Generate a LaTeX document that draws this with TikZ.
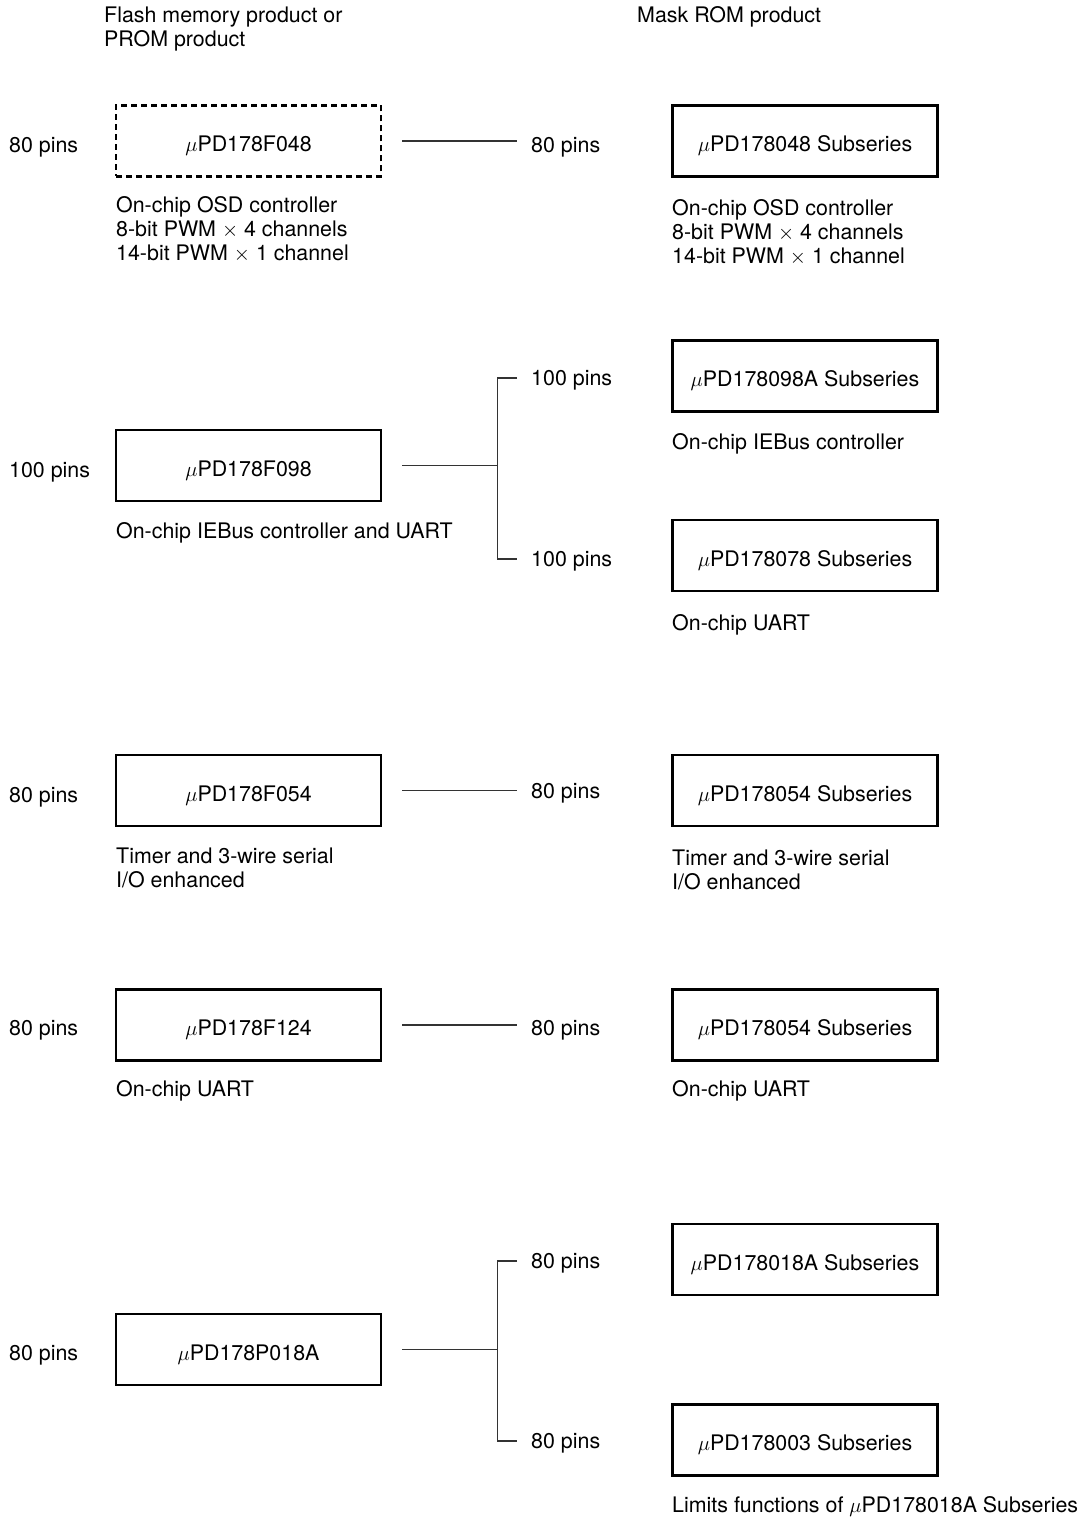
\documentclass[tikz,border=0pt]{standalone}
\usepackage{fontspec}
\setmainfont{TeX Gyre Heros}
\newcommand{\mup}{$\mu$}
\begin{document}
\begin{tikzpicture}[x=1pt,y=-1pt,
  every node/.style={font=\fontsize{21.4}{24}\selectfont},
  chip/.style={draw,line width=2.5pt,minimum width=265pt,minimum height=71pt,inner sep=0pt,text height=21.4pt,text depth=0pt,anchor=center},
  dchip/.style={chip,dash pattern=on 6pt off 4pt},
  pins/.style={anchor=west,inner sep=0pt,text height=15.4pt,text depth=0pt},
  desc/.style={anchor=north west,inner sep=0pt,align=left},
  conn/.style={line width=1.1pt,black!80}]
\useasboundingbox (0,0) rectangle (1086,1517);
% headers
\node[desc] (h1) at (104,6.3) {Flash memory product or\\PROM product};
\node[desc] (h2) at (637,6.3) {Mask ROM product};
% row 1
\node[dchip] (L1) at (248.5,141) {\mup PD178F048};
\node[chip] (R1) at (805,141) {\mup PD178048 Subseries};
\node[pins] (pl1) at (9,145) {80 pins};
\node[pins] (pr1) at (531,145) {80 pins};
\node[desc] (dl1) at (116,196.3) {On-chip OSD controller\\8-bit PWM $\times$ 4 channels\\14-bit PWM $\times$ 1 channel};
\node[desc] (dr1) at (672,199.3) {On-chip OSD controller\\8-bit PWM $\times$ 4 channels\\14-bit PWM $\times$ 1 channel};
\draw[conn] ([xshift=20pt]L1.east) -- ([xshift=-14pt]L1.east -| pr1.west);
% row 2
\node[chip] (R2a) at (805,376) {\mup PD178098A Subseries};
\node[chip] (L2) at (248.5,465.5) {\mup PD178F098};
\node[chip] (R2b) at (805,555.5) {\mup PD178078 Subseries};
\node[pins] (pl2) at (9,470) {100 pins};
\node[pins] (pr2a) at (531,378) {100 pins};
\node[pins] (pr2b) at (531,559) {100 pins};
\node[desc] (dr2a) at (672,433.3) {On-chip IEBus controller};
\node[desc] (dl2) at (116,522.3) {On-chip IEBus controller and UART};
\node[desc] (dr2b) at (672,614.3) {On-chip UART};
\path (L2.east) ++(115,0) coordinate (J2);
\draw[conn] ([xshift=20pt]L2.east) -- (J2);
\draw[conn] ([xshift=-14pt]pr2a.west) -| (J2) |- ([xshift=-14pt]pr2b.west);
% row 3
\node[chip] (L3) at (248.5,790.5) {\mup PD178F054};
\node[chip] (R3) at (805,790.5) {\mup PD178054 Subseries};
\node[pins] (pl3) at (9,795) {80 pins};
\node[pins] (pr3) at (531,791) {80 pins};
\node[desc] (dl3) at (116,847.3) {Timer and 3-wire serial\\I/O enhanced};
\node[desc] (dr3) at (672,849.3) {Timer and 3-wire serial\\I/O enhanced};
\draw[conn] ([xshift=20pt]L3.east) -- ([xshift=-14pt]L3.east -| pr3.west);
% row 4
\node[chip] (L4) at (248.5,1025) {\mup PD178F124};
\node[chip] (R4) at (805,1025) {\mup PD178054 Subseries};
\node[pins] (pl4) at (9,1028) {80 pins};
\node[pins] (pr4) at (531,1028) {80 pins};
\node[desc] (dl4) at (116,1080.3) {On-chip UART};
\node[desc] (dr4) at (672,1080.3) {On-chip UART};
\draw[conn] ([xshift=20pt]L4.east) -- ([xshift=-14pt]L4.east -| pr4.west);
% row 5
\node[chip] (R5a) at (805,1259.5) {\mup PD178018A Subseries};
\node[chip] (L5) at (248.5,1349.5) {\mup PD178P018A};
\node[chip] (R5b) at (805,1440) {\mup PD178003 Subseries};
\node[pins] (pl5) at (9,1353) {80 pins};
\node[pins] (pr5a) at (531,1261) {80 pins};
\node[pins] (pr5b) at (531,1441) {80 pins};
\node[desc] (dr5) at (672,1496.3) {Limits functions of \mup PD178018A Subseries};
\path (L5.east) ++(115,0) coordinate (J5);
\draw[conn] ([xshift=20pt]L5.east) -- (J5);
\draw[conn] ([xshift=-14pt]pr5a.west) -| (J5) |- ([xshift=-14pt]pr5b.west);
\end{tikzpicture}
\end{document}
